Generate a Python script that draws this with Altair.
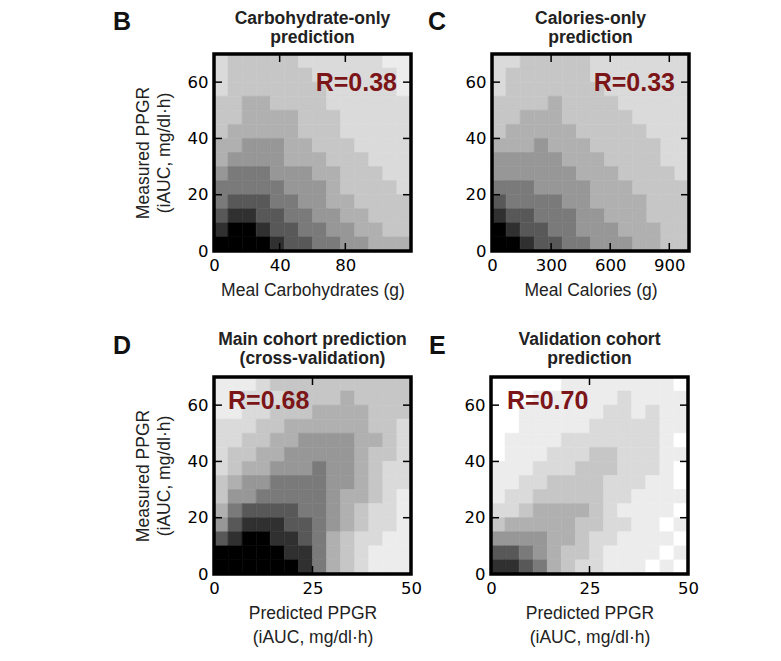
import altair as alt
import pandas as pd

# ---------------- data ----------------
Y_MAX = 70                      # measured PPGR axis range (0-70)
Y_LABELS = [0, 20, 40, 60]
Y_INNER_TICKS = [20, 40, 60]

# Panel B: Meal Carbohydrates (g) vs Measured PPGR
B_XMAX = 120
B_XLABELS = [0, 40, 80]
B_XTICKS = [40, 80]
# point-density level (0 empty .. 9 solid black) per cell, rows top (65-70) to bottom (0-5)
B_DENSITY = [
    "2 3 3 3 3 3 2 2 2 2 2 2 1 1",
    "2 3 3 3 3 3 3 2 2 2 2 2 2 1",
    "2 3 3 3 3 3 3 3 2 2 2 2 2 1",
    "3 3 4 4 3 3 3 3 2 2 2 2 2 2",
    "3 3 4 4 4 4 3 3 3 2 2 2 2 2",
    "3 4 4 4 4 4 3 3 3 2 2 2 2 2",
    "4 4 5 5 5 4 4 3 3 3 2 2 2 2",
    "4 5 5 5 5 4 4 4 3 3 3 2 2 2",
    "5 6 6 6 5 5 5 4 4 3 3 3 2 2",
    "6 6 6 6 6 5 5 5 4 3 3 3 3 2",
    "6 7 7 7 6 6 5 5 4 4 3 3 3 3",
    "7 8 8 7 7 6 6 5 5 4 4 3 3 3",
    "8 9 9 8 7 7 6 6 5 5 4 4 3 3",
    "9 9 9 9 8 7 7 6 6 5 5 4 4 4",
]

# Panel C: Meal Calories vs Measured PPGR
C_XMAX = 1000
C_XLABELS = [0, 300, 600, 900]
C_XTICKS = [300, 600, 900]
C_DENSITY = [
    "2 2 3 3 3 3 3 2 2 2 2 2 2 2",
    "2 3 3 3 3 3 3 2 2 2 2 2 2 2",
    "2 3 3 3 3 3 3 3 2 2 2 2 2 2",
    "3 3 3 3 4 3 3 3 3 2 2 2 2 2",
    "3 3 4 4 4 3 3 3 3 3 2 2 2 2",
    "3 4 4 4 4 4 3 3 3 3 3 2 2 2",
    "4 4 4 5 4 4 4 3 3 3 3 3 2 2",
    "5 5 5 5 5 4 4 4 3 3 3 3 2 2",
    "5 5 5 5 5 5 4 4 4 3 3 3 3 2",
    "6 6 6 5 5 5 5 4 4 4 3 3 3 3",
    "7 6 6 6 6 5 5 4 4 4 4 3 3 3",
    "8 7 7 6 6 6 5 5 4 4 4 3 3 3",
    "9 8 7 7 6 6 5 5 5 4 4 4 3 3",
    "9 9 8 7 7 6 6 5 5 5 4 4 3 3",
]

# Panel D: main cohort prediction (cross-validation)
D_XMAX = 50
D_XLABELS = [0, 25, 50]
D_XTICKS = [25]
D_DENSITY = [
    "1 1 1 2 3 3 3 3 3 3 3 3 3 3",
    "1 1 2 2 2 3 3 3 3 4 3 3 3 3",
    "1 1 2 2 3 3 3 4 4 4 4 3 3 3",
    "2 2 2 3 3 4 4 4 4 4 4 3 3 2",
    "2 2 3 3 4 4 5 5 5 5 4 4 3 2",
    "2 3 3 4 4 5 5 5 5 5 4 3 3 2",
    "2 3 4 4 5 5 5 6 5 5 4 3 2 2",
    "3 4 5 5 6 6 6 6 5 5 4 3 2 2",
    "3 5 5 6 6 6 6 6 5 4 4 3 2 1",
    "4 6 7 7 7 7 6 6 5 4 3 2 2 1",
    "5 7 8 8 8 7 7 6 5 4 3 2 2 1",
    "7 8 9 9 8 8 7 6 4 3 2 2 1 1",
    "9 9 9 9 9 8 8 6 4 3 2 1 1 1",
    "9 9 9 9 9 9 8 6 4 3 2 1 1 1",
]

# Panel E: validation cohort prediction
E_XMAX = 50
E_XLABELS = [0, 25, 50]
E_XTICKS = [25]
E_DENSITY = [
    "0 0 0 0 0 1 1 1 1 1 1 1 1 0",
    "0 0 0 1 1 1 1 1 1 2 1 1 1 1",
    "0 0 1 1 1 1 1 1 2 2 1 2 1 1",
    "0 0 1 1 1 1 1 2 2 2 2 2 1 1",
    "0 1 1 1 1 2 2 2 2 2 2 2 1 0",
    "0 1 1 1 2 2 2 3 3 2 2 2 1 1",
    "1 1 1 2 2 2 3 3 3 2 2 2 1 0",
    "1 1 2 2 3 3 3 3 2 2 2 1 1 0",
    "1 2 2 3 3 3 3 3 2 2 1 1 1 1",
    "2 2 3 4 4 4 4 3 2 1 1 1 1 0",
    "3 4 4 4 4 4 3 3 2 2 1 1 0 1",
    "5 5 5 5 4 4 3 2 2 1 1 1 1 0",
    "7 7 6 5 4 3 3 2 1 1 1 1 0 1",
    "8 8 7 6 4 3 2 2 1 1 1 0 1 0",
]

R_VALUES = {"B": "R=0.38", "C": "R=0.33", "D": "R=0.68", "E": "R=0.70"}
TITLES = {
    "B": ["Carbohydrate-only", "prediction"],
    "C": ["Calories-only", "prediction"],
    "D": ["Main cohort prediction", "(cross-validation)"],
    "E": ["Validation cohort", "prediction"],
}
X_TITLES = {
    "B": "Meal Carbohydrates (g)",
    "C": "Meal Calories (g)",
    "D": ["Predicted PPGR", "(iAUC, mg/dl\u00b7h)"],
    "E": ["Predicted PPGR", "(iAUC, mg/dl\u00b7h)"],
}
Y_TITLE = ["Measured PPGR", "(iAUC, mg/dl\u00b7h)"]

# ---------------- styling ----------------
W = 197
H = 197
LABEL_FONT = "DejaVu Sans"
TEXT_FONT = "Liberation Sans"
R_COLOR = "#7b1518"
TICK_LEN = 8
LEVELS = list(range(10))
GRAYS = ["#ffffff", "#ececec", "#dadada", "#c6c6c6", "#b0b0b0",
         "#979797", "#7a7a7a", "#585858", "#303030", "#000000"]


def density_frame(rows, xmax):
    recs = []
    n_rows = len(rows)
    row_h = Y_MAX / n_rows
    for r, row in enumerate(rows):
        vals = [int(v) for v in row.split()]
        col_w = xmax / len(vals)
        for c, d in enumerate(vals):
            recs.append({
                "x0": c * col_w, "x1": (c + 1) * col_w,
                "y0": Y_MAX - (r + 1) * row_h, "y1": Y_MAX - r * row_h,
                "d": d,
            })
    return pd.DataFrame(recs)


ONE = pd.DataFrame({"k": [0]})


def panel(key, rows, xmax, xlabels, xticks, show_ytitle, r_align, r_x, r_y,
          letter_x, letter_y, title_y):
    xs = alt.Scale(domain=[0, xmax], nice=False, zero=False)
    ys = alt.Scale(domain=[0, Y_MAX], nice=False, zero=False)
    gray = alt.Scale(domain=LEVELS, range=GRAYS, type="linear")

    common = dict(ticks=False, domain=False, grid=False,
                  labelFont=LABEL_FONT, labelFontSize=16.5, labelColor="#000",
                  labelPadding=6, labelFlush=False, labelOverlap=False, format="d")
    x_axis = alt.Axis(values=xlabels, titleFont=TEXT_FONT, titleFontSize=17.5,
                      titleFontWeight="normal", titleColor="#222", titlePadding=8,
                      titleLineHeight=24, title=X_TITLES[key], **common)
    if show_ytitle:
        y_axis = alt.Axis(values=Y_LABELS, titleFont=TEXT_FONT, titleFontSize=17.5,
                          titleFontWeight="normal", titleColor="#222", titlePadding=14,
                          titleLineHeight=21, title=Y_TITLE, **common)
    else:
        y_axis = alt.Axis(values=Y_LABELS, title=None, **common)

    heat = alt.Chart(density_frame(rows, xmax)).mark_rect(strokeWidth=0.6).encode(
        x=alt.X("x0:Q", scale=xs, axis=x_axis),
        x2="x1:Q",
        y=alt.Y("y0:Q", scale=ys, axis=y_axis),
        y2="y1:Q",
        color=alt.Color("d:Q", scale=gray, legend=None),
        stroke=alt.Stroke("d:Q", scale=gray, legend=None),
    )

    yt = pd.DataFrame({"v": Y_INNER_TICKS})
    xt = pd.DataFrame({"v": xticks})
    rule = dict(color="black", strokeWidth=1.5)
    left_t = alt.Chart(yt).mark_rule(**rule).encode(
        y=alt.Y("v:Q", scale=ys, axis=y_axis), x=alt.value(0), x2=alt.value(TICK_LEN))
    right_t = alt.Chart(yt).mark_rule(**rule).encode(
        y=alt.Y("v:Q", scale=ys, axis=y_axis), x=alt.value(W - TICK_LEN), x2=alt.value(W))
    bot_t = alt.Chart(xt).mark_rule(**rule).encode(
        x=alt.X("v:Q", scale=xs, axis=x_axis), y=alt.value(H - TICK_LEN), y2=alt.value(H))
    top_t = alt.Chart(xt).mark_rule(**rule).encode(
        x=alt.X("v:Q", scale=xs, axis=x_axis), y=alt.value(0), y2=alt.value(TICK_LEN))

    frame = alt.Chart(ONE).mark_rect(fillOpacity=0, stroke="black", strokeWidth=3.5).encode(
        x=alt.value(0), x2=alt.value(W), y=alt.value(0), y2=alt.value(H))

    r_text = alt.Chart(ONE).mark_text(
        font=TEXT_FONT, fontSize=25, fontWeight="bold", color=R_COLOR,
        align=r_align, baseline="alphabetic").encode(
        x=alt.value(r_x), y=alt.value(r_y), text=alt.value(R_VALUES[key]))

    letter = alt.Chart(ONE).mark_text(
        font=TEXT_FONT, fontSize=25, fontWeight="bold", color="#111",
        align="left", baseline="top").encode(
        x=alt.value(letter_x), y=alt.value(letter_y), text=alt.value(key))

    title = alt.Chart(ONE).mark_text(
        font=TEXT_FONT, fontSize=17.5, fontWeight="bold", color="#222",
        align="center", baseline="alphabetic", lineHeight=19).encode(
        x=alt.value(W / 2), y=alt.value(title_y), text=alt.value(TITLES[key]))

    return alt.layer(heat, left_t, right_t, bot_t, top_t, frame, r_text, letter, title).properties(
        width=W, height=H)


pB = panel("B", B_DENSITY, B_XMAX, B_XLABELS, B_XTICKS, True, "right", 183, 37, -101, -44, -30)
pC = panel("C", C_DENSITY, C_XMAX, C_XLABELS, C_XTICKS, False, "right", 183, 37, -64, -44, -30)
pD = panel("D", D_DENSITY, D_XMAX, D_XLABELS, D_XTICKS, True, "left", 14, 32, -101, -43, -32)
pE = panel("E", E_DENSITY, E_XMAX, E_XLABELS, E_XTICKS, False, "left", 16, 32, -62, -43, -32)

top = alt.hconcat(pB, pC, spacing=13)
bottom = alt.hconcat(pD, pE, spacing=6)

chart = alt.vconcat(top, bottom, spacing=30).properties(
    padding={"left": 104, "top": 1, "right": 5, "bottom": 5}
).configure_view(stroke=None).configure(background="white")

chart.save("out.html", embed_options={"renderer": "svg", "actions": False})
